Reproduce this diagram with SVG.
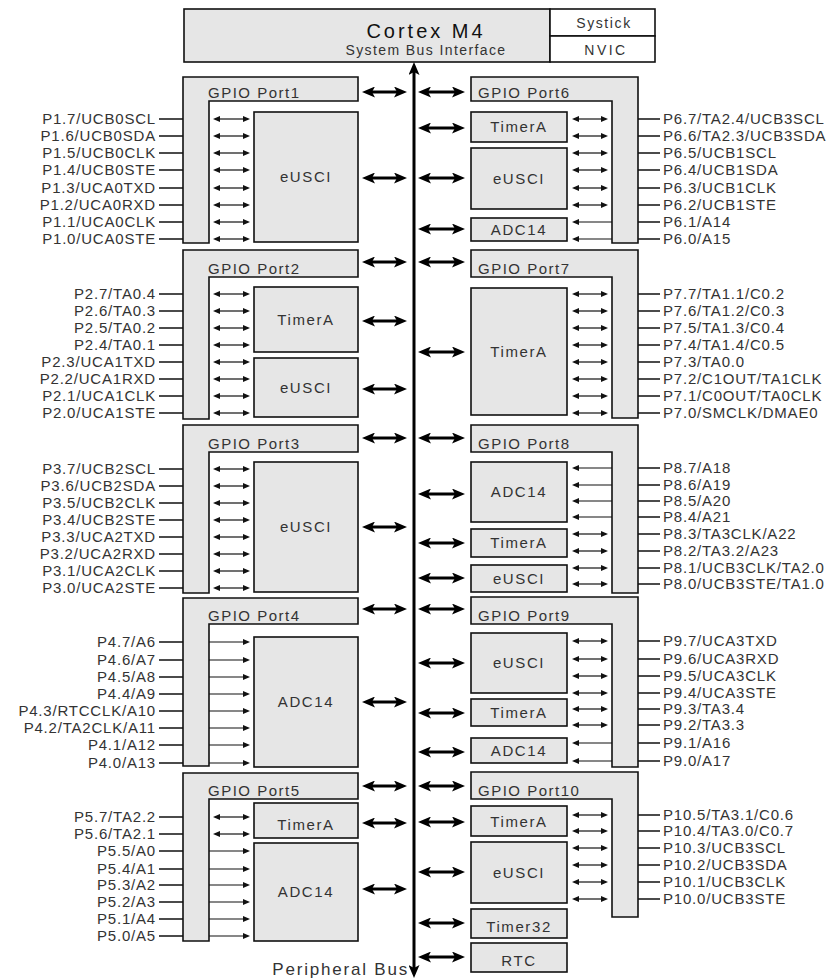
<svg xmlns="http://www.w3.org/2000/svg" width="829" height="978" viewBox="0 0 829 978">
<style>
.box{fill:#e6e6e6;stroke:#111;stroke-width:1.6}
.wbox{fill:#fff;stroke:#111;stroke-width:1.6}
text{font-family:"Liberation Sans",Arial,sans-serif;fill:#333}
.pl{font-size:15px;letter-spacing:0.8px;text-anchor:end}
.pr{font-size:15px;letter-spacing:0.8px;text-anchor:start}
.hdr{font-size:15px;letter-spacing:1.5px}
.blk{font-size:15px;letter-spacing:1.6px;text-anchor:middle}
.pin{stroke:#111;stroke-width:1.4}
.sd{stroke:#111;stroke-width:1.2;marker-start:url(#sa);marker-end:url(#sa)}
.ss{stroke:#111;stroke-width:1.2;marker-end:url(#sa)}
.bd{stroke:#000;stroke-width:3;marker-start:url(#ba);marker-end:url(#ba)}
</style>
<defs>
<marker id="sa" viewBox="0 0 7 6" refX="4" refY="3" markerWidth="7" markerHeight="6" markerUnits="userSpaceOnUse" orient="auto-start-reverse"><path d="M0,0L7,3L0,6z" fill="#111"/></marker>
<marker id="ba" viewBox="0 0 13 11" refX="6" refY="5.5" markerWidth="13" markerHeight="11" markerUnits="userSpaceOnUse" orient="auto-start-reverse"><path d="M0,0L13,5.5L0,11L3,5.5z" fill="#000"/></marker>
</defs>

<g id="cortex">
<rect class="box" x="184" y="9" width="366" height="53"/>
<text x="426" y="38" text-anchor="middle" style="font-size:20px;letter-spacing:3px;fill:#111">Cortex M4</text>
<text x="426" y="55" text-anchor="middle" style="font-size:14px;letter-spacing:1.4px">System Bus Interface</text>
</g>
<g id="systick"><rect class="wbox" x="550" y="9" width="105" height="27"/><text x="604" y="28" text-anchor="middle" style="font-size:14px;letter-spacing:1.6px">Systick</text></g>
<g id="nvic"><rect class="wbox" x="550" y="36" width="105" height="26"/><text x="606" y="55" text-anchor="middle" style="font-size:14px;letter-spacing:2.5px">NVIC</text></g>

<!-- Left GPIO ports -->
<g id="gpio1">
<path class="box" d="M183,77H358V101H209V243H183Z"/>
<text class="hdr" x="208" y="98">GPIO Port1</text>
<text class="pl" x="156" y="124">P1.7/UCB0SCL</text>
<text class="pl" x="156" y="141">P1.6/UCB0SDA</text>
<text class="pl" x="156" y="158">P1.5/UCB0CLK</text>
<text class="pl" x="156" y="175">P1.4/UCB0STE</text>
<text class="pl" x="156" y="193">P1.3/UCA0TXD</text>
<text class="pl" x="156" y="210">P1.2/UCA0RXD</text>
<text class="pl" x="156" y="227">P1.1/UCA0CLK</text>
<text class="pl" x="156" y="244">P1.0/UCA0STE</text>
</g>
<g id="p1-eusci"><rect class="box" x="254" y="112" width="104" height="130"/><text class="blk" x="306" y="182">eUSCI</text></g>

<g id="gpio2">
<path class="box" d="M183,250H358V277H209V419H183Z"/>
<text class="hdr" x="208" y="274">GPIO Port2</text>
<text class="pl" x="156" y="299">P2.7/TA0.4</text>
<text class="pl" x="156" y="316">P2.6/TA0.3</text>
<text class="pl" x="156" y="333">P2.5/TA0.2</text>
<text class="pl" x="156" y="350">P2.4/TA0.1</text>
<text class="pl" x="156" y="367">P2.3/UCA1TXD</text>
<text class="pl" x="156" y="384">P2.2/UCA1RXD</text>
<text class="pl" x="156" y="401">P2.1/UCA1CLK</text>
<text class="pl" x="156" y="418">P2.0/UCA1STE</text>
</g>
<g id="p2-timera"><rect class="box" x="254" y="287" width="104" height="65"/><text class="blk" x="306" y="325">TimerA</text></g>
<g id="p2-eusci"><rect class="box" x="254" y="358" width="104" height="59"/><text class="blk" x="306" y="393">eUSCI</text></g>

<g id="gpio3">
<path class="box" d="M183,425H358V452H209V593H183Z"/>
<text class="hdr" x="208" y="449">GPIO Port3</text>
<text class="pl" x="156" y="474">P3.7/UCB2SCL</text>
<text class="pl" x="156" y="491">P3.6/UCB2SDA</text>
<text class="pl" x="156" y="508">P3.5/UCB2CLK</text>
<text class="pl" x="156" y="525">P3.4/UCB2STE</text>
<text class="pl" x="156" y="542">P3.3/UCA2TXD</text>
<text class="pl" x="156" y="559">P3.2/UCA2RXD</text>
<text class="pl" x="156" y="576">P3.1/UCA2CLK</text>
<text class="pl" x="156" y="593">P3.0/UCA2STE</text>
</g>
<g id="p3-eusci"><rect class="box" x="254" y="462" width="104" height="130"/><text class="blk" x="306" y="532">eUSCI</text></g>

<g id="gpio4">
<path class="box" d="M183,598H358V624H209V766H183Z"/>
<text class="hdr" x="208" y="621">GPIO Port4</text>
<text class="pl" x="156" y="647">P4.7/A6</text>
<text class="pl" x="156" y="665">P4.6/A7</text>
<text class="pl" x="156" y="682">P4.5/A8</text>
<text class="pl" x="156" y="699">P4.4/A9</text>
<text class="pl" x="156" y="716">P4.3/RTCCLK/A10</text>
<text class="pl" x="156" y="733">P4.2/TA2CLK/A11</text>
<text class="pl" x="156" y="750">P4.1/A12</text>
<text class="pl" x="156" y="768">P4.0/A13</text>
</g>
<g id="p4-adc14"><rect class="box" x="254" y="637" width="104" height="130"/><text class="blk" x="306" y="707">ADC14</text></g>

<g id="gpio5">
<path class="box" d="M183,773H358V799H209V941H183Z"/>
<text class="hdr" x="208" y="796">GPIO Port5</text>
<text class="pl" x="156" y="822">P5.7/TA2.2</text>
<text class="pl" x="156" y="839">P5.6/TA2.1</text>
<text class="pl" x="156" y="856">P5.5/A0</text>
<text class="pl" x="156" y="874">P5.4/A1</text>
<text class="pl" x="156" y="890">P5.3/A2</text>
<text class="pl" x="156" y="907">P5.2/A3</text>
<text class="pl" x="156" y="924">P5.1/A4</text>
<text class="pl" x="156" y="941">P5.0/A5</text>
</g>
<g id="p5-timera"><rect class="box" x="254" y="803" width="104" height="35"/><text class="blk" x="306" y="830">TimerA</text></g>
<g id="p5-adc14"><rect class="box" x="254" y="843" width="104" height="98"/><text class="blk" x="306" y="897">ADC14</text></g>

<!-- Right GPIO ports -->
<g id="gpio6">
<path class="box" d="M471,77H638V243H612V101H471Z"/>
<text class="hdr" x="478" y="98">GPIO Port6</text>
<text class="pr" x="663" y="124">P6.7/TA2.4/UCB3SCL</text>
<text class="pr" x="663" y="141">P6.6/TA2.3/UCB3SDA</text>
<text class="pr" x="663" y="158">P6.5/UCB1SCL</text>
<text class="pr" x="663" y="175">P6.4/UCB1SDA</text>
<text class="pr" x="663" y="193">P6.3/UCB1CLK</text>
<text class="pr" x="663" y="210">P6.2/UCB1STE</text>
<text class="pr" x="663" y="227">P6.1/A14</text>
<text class="pr" x="663" y="244">P6.0/A15</text>
</g>
<g id="p6-timera"><rect class="box" x="471" y="112" width="96" height="30"/><text class="blk" x="519" y="132">TimerA</text></g>
<g id="p6-eusci"><rect class="box" x="471" y="148" width="96" height="61"/><text class="blk" x="519" y="184">eUSCI</text></g>
<g id="p6-adc14"><rect class="box" x="471" y="218" width="96" height="23"/><text class="blk" x="519" y="235">ADC14</text></g>

<g id="gpio7">
<path class="box" d="M471,250H638V418H612V277H471Z"/>
<text class="hdr" x="478" y="274">GPIO Port7</text>
<text class="pr" x="663" y="299">P7.7/TA1.1/C0.2</text>
<text class="pr" x="663" y="316">P7.6/TA1.2/C0.3</text>
<text class="pr" x="663" y="333">P7.5/TA1.3/C0.4</text>
<text class="pr" x="663" y="350">P7.4/TA1.4/C0.5</text>
<text class="pr" x="663" y="367">P7.3/TA0.0</text>
<text class="pr" x="663" y="384">P7.2/C1OUT/TA1CLK</text>
<text class="pr" x="663" y="401">P7.1/C0OUT/TA0CLK</text>
<text class="pr" x="663" y="418">P7.0/SMCLK/DMAE0</text>
</g>
<g id="p7-timera"><rect class="box" x="471" y="288" width="96" height="127"/><text class="blk" x="519" y="357">TimerA</text></g>

<g id="gpio8">
<path class="box" d="M471,425H638V593H612V452H471Z"/>
<text class="hdr" x="478" y="449">GPIO Port8</text>
<text class="pr" x="663" y="473">P8.7/A18</text>
<text class="pr" x="663" y="490">P8.6/A19</text>
<text class="pr" x="663" y="506">P8.5/A20</text>
<text class="pr" x="663" y="522">P8.4/A21</text>
<text class="pr" x="663" y="539">P8.3/TA3CLK/A22</text>
<text class="pr" x="663" y="556">P8.2/TA3.2/A23</text>
<text class="pr" x="663" y="573">P8.1/UCB3CLK/TA2.0</text>
<text class="pr" x="663" y="589">P8.0/UCB3STE/TA1.0</text>
</g>
<g id="p8-adc14"><rect class="box" x="471" y="462" width="96" height="60"/><text class="blk" x="519" y="497">ADC14</text></g>
<g id="p8-timera"><rect class="box" x="471" y="529" width="96" height="28"/><text class="blk" x="519" y="548">TimerA</text></g>
<g id="p8-eusci"><rect class="box" x="471" y="565" width="96" height="27"/><text class="blk" x="519" y="584">eUSCI</text></g>

<g id="gpio9">
<path class="box" d="M471,597H638V767H612V624H471Z"/>
<text class="hdr" x="478" y="621">GPIO Port9</text>
<text class="pr" x="663" y="646">P9.7/UCA3TXD</text>
<text class="pr" x="663" y="664">P9.6/UCA3RXD</text>
<text class="pr" x="663" y="681">P9.5/UCA3CLK</text>
<text class="pr" x="663" y="698">P9.4/UCA3STE</text>
<text class="pr" x="663" y="714">P9.3/TA3.4</text>
<text class="pr" x="663" y="730">P9.2/TA3.3</text>
<text class="pr" x="663" y="748">P9.1/A16</text>
<text class="pr" x="663" y="766">P9.0/A17</text>
</g>
<g id="p9-eusci"><rect class="box" x="471" y="633" width="96" height="60"/><text class="blk" x="519" y="668">eUSCI</text></g>
<g id="p9-timera"><rect class="box" x="471" y="699" width="96" height="27"/><text class="blk" x="519" y="718">TimerA</text></g>
<g id="p9-adc14"><rect class="box" x="471" y="738" width="96" height="25"/><text class="blk" x="519" y="756">ADC14</text></g>

<g id="gpio10">
<path class="box" d="M471,772H638V917H612V799H471Z"/>
<text class="hdr" x="478" y="796">GPIO Port10</text>
<text class="pr" x="663" y="820">P10.5/TA3.1/C0.6</text>
<text class="pr" x="663" y="836">P10.4/TA3.0/C0.7</text>
<text class="pr" x="663" y="853">P10.3/UCB3SCL</text>
<text class="pr" x="663" y="870">P10.2/UCB3SDA</text>
<text class="pr" x="663" y="887">P10.1/UCB3CLK</text>
<text class="pr" x="663" y="904">P10.0/UCB3STE</text>
</g>
<g id="p10-timera"><rect class="box" x="471" y="806" width="96" height="30"/><text class="blk" x="519" y="827">TimerA</text></g>
<g id="p10-eusci"><rect class="box" x="471" y="842" width="96" height="61"/><text class="blk" x="519" y="878">eUSCI</text></g>
<g id="timer32"><rect class="box" x="471" y="909" width="96" height="29"/><text class="blk" x="519" y="932">Timer32</text></g>
<g id="rtc"><rect class="box" x="471" y="943" width="96" height="29"/><text class="blk" x="519" y="966">RTC</text></g>

<g id="bus-label"><text x="409" y="975" text-anchor="end" style="font-size:17px;letter-spacing:1.8px">Peripheral Bus</text></g>

<g id="connectors">
<!-- main bus -->
<line class="bd" x1="414" y1="69" x2="414" y2="971"/>
<!-- bus arrows left -->
<line class="bd" x1="369" y1="92" x2="400" y2="92"/>
<line class="bd" x1="369" y1="178" x2="400" y2="178"/>
<line class="bd" x1="369" y1="262" x2="400" y2="262"/>
<line class="bd" x1="369" y1="321" x2="400" y2="321"/>
<line class="bd" x1="369" y1="389" x2="400" y2="389"/>
<line class="bd" x1="369" y1="438" x2="400" y2="438"/>
<line class="bd" x1="369" y1="527" x2="400" y2="527"/>
<line class="bd" x1="369" y1="609" x2="400" y2="609"/>
<line class="bd" x1="369" y1="702" x2="400" y2="702"/>
<line class="bd" x1="369" y1="786" x2="400" y2="786"/>
<line class="bd" x1="369" y1="823" x2="400" y2="823"/>
<line class="bd" x1="369" y1="889" x2="400" y2="889"/>
<!-- bus arrows right -->
<line class="bd" x1="425" y1="92" x2="458" y2="92"/>
<line class="bd" x1="425" y1="128" x2="458" y2="128"/>
<line class="bd" x1="425" y1="178" x2="458" y2="178"/>
<line class="bd" x1="425" y1="229" x2="458" y2="229"/>
<line class="bd" x1="425" y1="262" x2="458" y2="262"/>
<line class="bd" x1="425" y1="352" x2="458" y2="352"/>
<line class="bd" x1="425" y1="438" x2="458" y2="438"/>
<line class="bd" x1="425" y1="494" x2="458" y2="494"/>
<line class="bd" x1="425" y1="543" x2="458" y2="543"/>
<line class="bd" x1="425" y1="578" x2="458" y2="578"/>
<line class="bd" x1="425" y1="609" x2="458" y2="609"/>
<line class="bd" x1="425" y1="663" x2="458" y2="663"/>
<line class="bd" x1="425" y1="713" x2="458" y2="713"/>
<line class="bd" x1="425" y1="752" x2="458" y2="752"/>
<line class="bd" x1="425" y1="786" x2="458" y2="786"/>
<line class="bd" x1="425" y1="822" x2="458" y2="822"/>
<line class="bd" x1="425" y1="872" x2="458" y2="872"/>
<line class="bd" x1="425" y1="923" x2="458" y2="923"/>
<line class="bd" x1="425" y1="957" x2="458" y2="957"/>

<!-- Port1 pins and inner arrows -->
<path class="pin" d="M159,119H183M159,136H183M159,153H183M159,170H183M159,188H183M159,205H183M159,222H183M159,239H183"/>
<line class="sd" x1="216" y1="119" x2="247" y2="119"/><line class="sd" x1="216" y1="136" x2="247" y2="136"/>
<line class="sd" x1="216" y1="153" x2="247" y2="153"/><line class="sd" x1="216" y1="170" x2="247" y2="170"/>
<line class="sd" x1="216" y1="188" x2="247" y2="188"/><line class="sd" x1="216" y1="205" x2="247" y2="205"/>
<line class="sd" x1="216" y1="222" x2="247" y2="222"/><line class="sd" x1="216" y1="239" x2="247" y2="239"/>
<!-- Port2 -->
<path class="pin" d="M159,294H183M159,311H183M159,328H183M159,345H183M159,362H183M159,379H183M159,396H183M159,413H183"/>
<line class="sd" x1="216" y1="294" x2="247" y2="294"/><line class="sd" x1="216" y1="311" x2="247" y2="311"/>
<line class="sd" x1="216" y1="328" x2="247" y2="328"/><line class="sd" x1="216" y1="345" x2="247" y2="345"/>
<line class="sd" x1="216" y1="362" x2="247" y2="362"/><line class="sd" x1="216" y1="379" x2="247" y2="379"/>
<line class="sd" x1="216" y1="396" x2="247" y2="396"/><line class="sd" x1="216" y1="413" x2="247" y2="413"/>
<!-- Port3 -->
<path class="pin" d="M159,469H183M159,486H183M159,503H183M159,520H183M159,537H183M159,554H183M159,571H183M159,588H183"/>
<line class="sd" x1="216" y1="469" x2="247" y2="469"/><line class="sd" x1="216" y1="486" x2="247" y2="486"/>
<line class="sd" x1="216" y1="503" x2="247" y2="503"/><line class="sd" x1="216" y1="520" x2="247" y2="520"/>
<line class="sd" x1="216" y1="537" x2="247" y2="537"/><line class="sd" x1="216" y1="554" x2="247" y2="554"/>
<line class="sd" x1="216" y1="571" x2="247" y2="571"/><line class="sd" x1="216" y1="588" x2="247" y2="588"/>
<!-- Port4 -->
<path class="pin" d="M159,642H183M159,660H183M159,677H183M159,694H183M159,711H183M159,728H183M159,745H183M159,763H183"/>
<line class="ss" x1="209" y1="642" x2="247" y2="642"/><line class="ss" x1="209" y1="660" x2="247" y2="660"/>
<line class="ss" x1="209" y1="677" x2="247" y2="677"/><line class="ss" x1="209" y1="694" x2="247" y2="694"/>
<line class="ss" x1="209" y1="711" x2="247" y2="711"/><line class="ss" x1="209" y1="728" x2="247" y2="728"/>
<line class="ss" x1="209" y1="745" x2="247" y2="745"/><line class="ss" x1="209" y1="763" x2="247" y2="763"/>
<!-- Port5 -->
<path class="pin" d="M159,817H183M159,834H183M159,851H183M159,869H183M159,885H183M159,902H183M159,919H183M159,936H183"/>
<line class="sd" x1="216" y1="817" x2="247" y2="817"/><line class="sd" x1="216" y1="834" x2="247" y2="834"/>
<line class="ss" x1="209" y1="851" x2="247" y2="851"/><line class="ss" x1="209" y1="869" x2="247" y2="869"/>
<line class="ss" x1="209" y1="885" x2="247" y2="885"/><line class="ss" x1="209" y1="902" x2="247" y2="902"/>
<line class="ss" x1="209" y1="919" x2="247" y2="919"/><line class="ss" x1="209" y1="936" x2="247" y2="936"/>

<!-- Port6 -->
<path class="pin" d="M638,119H660M638,136H660M638,153H660M638,170H660M638,188H660M638,205H660M638,222H660M638,239H660"/>
<line class="sd" x1="575" y1="119" x2="605" y2="119"/><line class="sd" x1="575" y1="136" x2="605" y2="136"/>
<line class="sd" x1="575" y1="153" x2="605" y2="153"/><line class="sd" x1="575" y1="170" x2="605" y2="170"/>
<line class="sd" x1="575" y1="188" x2="605" y2="188"/><line class="sd" x1="575" y1="205" x2="605" y2="205"/>
<line class="ss" x1="612" y1="222" x2="575" y2="222"/><line class="ss" x1="612" y1="239" x2="575" y2="239"/>
<!-- Port7 -->
<path class="pin" d="M638,294H660M638,311H660M638,328H660M638,345H660M638,362H660M638,379H660M638,396H660M638,413H660"/>
<line class="sd" x1="575" y1="294" x2="605" y2="294"/><line class="sd" x1="575" y1="311" x2="605" y2="311"/>
<line class="sd" x1="575" y1="328" x2="605" y2="328"/><line class="sd" x1="575" y1="345" x2="605" y2="345"/>
<line class="sd" x1="575" y1="362" x2="605" y2="362"/><line class="sd" x1="575" y1="379" x2="605" y2="379"/>
<line class="sd" x1="575" y1="396" x2="605" y2="396"/><line class="sd" x1="575" y1="413" x2="605" y2="413"/>
<!-- Port8 -->
<path class="pin" d="M638,468H660M638,485H660M638,501H660M638,517H660M638,534H660M638,551H660M638,568H660M638,584H660"/>
<line class="ss" x1="612" y1="468" x2="575" y2="468"/><line class="ss" x1="612" y1="485" x2="575" y2="485"/>
<line class="ss" x1="612" y1="501" x2="575" y2="501"/><line class="ss" x1="612" y1="517" x2="575" y2="517"/>
<line class="sd" x1="575" y1="534" x2="605" y2="534"/><line class="sd" x1="575" y1="551" x2="605" y2="551"/>
<line class="sd" x1="575" y1="568" x2="605" y2="568"/><line class="sd" x1="575" y1="584" x2="605" y2="584"/>
<!-- Port9 -->
<path class="pin" d="M638,641H660M638,659H660M638,676H660M638,693H660M638,709H660M638,725H660M638,743H660M638,761H660"/>
<line class="sd" x1="575" y1="641" x2="605" y2="641"/><line class="sd" x1="575" y1="659" x2="605" y2="659"/>
<line class="sd" x1="575" y1="676" x2="605" y2="676"/><line class="sd" x1="575" y1="693" x2="605" y2="693"/>
<line class="sd" x1="575" y1="709" x2="605" y2="709"/><line class="sd" x1="575" y1="725" x2="605" y2="725"/>
<line class="ss" x1="612" y1="743" x2="575" y2="743"/><line class="ss" x1="612" y1="761" x2="575" y2="761"/>
<!-- Port10 -->
<path class="pin" d="M638,815H660M638,831H660M638,848H660M638,865H660M638,882H660M638,899H660"/>
<line class="sd" x1="575" y1="815" x2="605" y2="815"/><line class="sd" x1="575" y1="831" x2="605" y2="831"/>
<line class="sd" x1="575" y1="848" x2="605" y2="848"/><line class="sd" x1="575" y1="865" x2="605" y2="865"/>
<line class="sd" x1="575" y1="882" x2="605" y2="882"/><line class="sd" x1="575" y1="899" x2="605" y2="899"/>
</g>
</svg>
